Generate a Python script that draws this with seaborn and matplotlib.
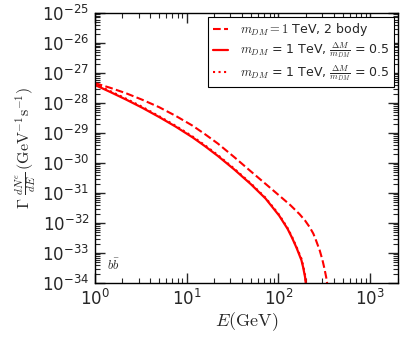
import numpy as np
import pandas as pd
import matplotlib
matplotlib.use("Agg")
import matplotlib.pyplot as plt
import seaborn as sns
from matplotlib.ticker import LogLocator, NullFormatter

# data
E_two_body = [1.0, 1.48, 2.19, 3.31, 5.01, 7.59, 11.6, 15.8, 21.9, 33.1, 50.1, 72.4, 107, 135, 170, 195,
              219, 240, 257, 282, 302, 316, 331, 347]
G_two_body = [4.57e-28, 3.16e-28, 2.09e-28, 1.26e-28, 7.2e-29, 3.7e-29, 1.74e-29, 9.1e-30, 4.4e-30, 1.55e-30,
              5.2e-31, 2.0e-31, 7.2e-32, 3.9e-32, 1.95e-32, 1.2e-32, 7.2e-33, 4.4e-33, 2.6e-33, 1.2e-33,
              5.75e-34, 3.16e-34, 1.58e-34, 6.3e-35]

E_three_body = [1.0, 1.48, 2.19, 3.31, 5.01, 7.59, 11.6, 15.8, 21.9, 33.1, 50.1, 72.4, 102, 126, 141, 158,
                178, 186, 195, 200]
G_three_body = [3.98e-28, 2.29e-28, 1.29e-28, 6.8e-29, 3.39e-29, 1.62e-29, 7.1e-30, 3.63e-30, 1.70e-30, 6.0e-31,
                1.95e-31, 6.5e-32, 1.74e-32, 6.3e-33, 3.16e-33, 1.45e-33, 5.75e-34, 3.3e-34, 1.58e-34, 7.9e-35]

E_dotted = [1.0, 1.48, 2.19, 3.31, 5.01, 7.59, 11.6, 15.8, 21.9, 33.1, 50.1, 72.4, 102, 126, 141, 158,
            179, 187, 196, 201]
G_dotted = [4.2e-28, 2.45e-28, 1.38e-28, 7.3e-29, 3.6e-29, 1.73e-29, 7.6e-30, 3.9e-30, 1.82e-30, 6.4e-31,
            2.08e-31, 6.9e-32, 1.86e-32, 6.7e-33, 3.4e-33, 1.55e-33, 6.2e-34, 3.5e-34, 1.7e-34, 8.2e-35]

labels = [r"$m_{DM}=1$ TeV, 2 body",
          r"$m_{DM}$ = 1 TeV, $\frac{\Delta M}{m_{DM}}$ = 0.5",
          r"$m_{DM}$ = 1 TeV, $\frac{\Delta M}{m_{DM}}$ = 0.5"]

sns.set_style("ticks")
plt.rcParams["font.family"] = ["DejaVu Sans"]
plt.rcParams["mathtext.fontset"] = "cm"
plt.rcParams["xtick.direction"] = "in"
plt.rcParams["ytick.direction"] = "in"

fig = plt.figure(figsize=(4.14, 3.38), dpi=100)
ax = fig.add_axes([0.229, 0.163, 0.732, 0.799])

sns.lineplot(x=E_two_body, y=G_two_body, ax=ax, color="red", linestyle="--", linewidth=1.5,
             label=labels[0], sort=False, estimator=None)
sns.lineplot(x=E_three_body, y=G_three_body, ax=ax, color="red", linestyle="-", linewidth=1.6,
             label=labels[1], sort=False, estimator=None)
sns.lineplot(x=E_dotted, y=G_dotted, ax=ax, color="red", linestyle=":", linewidth=1.5,
             label=labels[2], sort=False, estimator=None)

ax.set_xscale("log")
ax.set_yscale("log")
ax.set_xlim(1, 2000)
ax.set_ylim(1e-34, 1e-25)

ax.yaxis.set_major_locator(LogLocator(base=10, numticks=20))
ax.yaxis.set_minor_locator(LogLocator(base=10, subs=np.arange(2, 10), numticks=20))
ax.yaxis.set_minor_formatter(NullFormatter())
ax.xaxis.set_minor_locator(LogLocator(base=10, subs=np.arange(2, 10), numticks=20))
ax.xaxis.set_minor_formatter(NullFormatter())

ax.tick_params(which="major", length=7, width=1, labelsize=12, top=True, right=True, direction="in", pad=4)
ax.tick_params(which="minor", length=3.5, width=0.8, top=True, right=True, direction="in")
for s in ax.spines.values():
    s.set_linewidth(1.0)
    s.set_color("black")

ax.set_xlabel(r"$E(\mathrm{GeV})$", fontsize=13, labelpad=1)
ax.set_ylabel(r"$\Gamma\ \frac{dN^e}{dE}\,(\mathrm{GeV}^{-1}\mathrm{s}^{-1})$", fontsize=11.5, labelpad=2)

ax.text(0.04, 0.05, r"$b\bar{b}$", transform=ax.transAxes, fontsize=9)

leg = ax.legend(loc="upper right", fontsize=9, frameon=True, fancybox=False, borderaxespad=0.3,
                handlelength=1.25, handletextpad=0.95, labelspacing=0.2, borderpad=0.35)
leg.get_frame().set_edgecolor("black")
leg.get_frame().set_linewidth(0.8)
leg.get_frame().set_alpha(1)

fig.savefig("out.png", dpi=100)
